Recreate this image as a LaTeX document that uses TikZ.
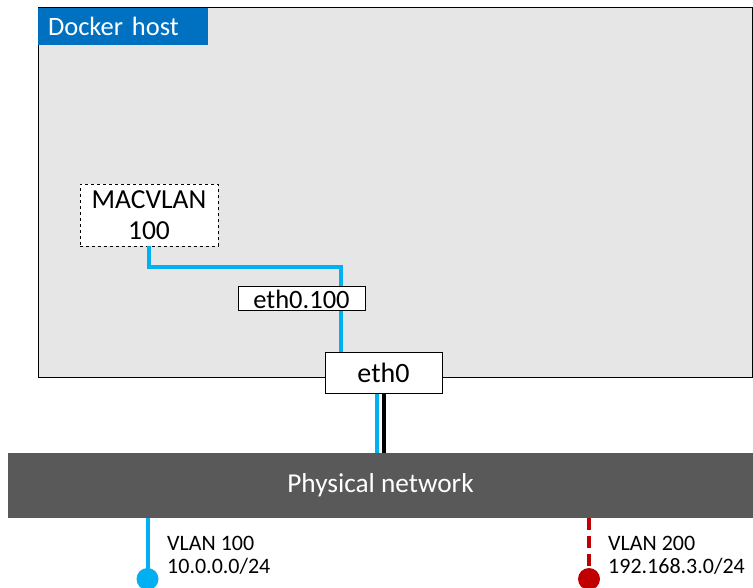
\documentclass[tikz,border=0pt]{standalone}
\usepackage{fontspec}
\setmainfont{Carlito}
\usepackage{tikz}
\usetikzlibrary{positioning}

\definecolor{tabblue}{HTML}{0070C0}
\definecolor{linkblue}{HTML}{00B0F0}
\definecolor{hostgray}{HTML}{E6E6E6}
\definecolor{netgray}{HTML}{595959}
\definecolor{vlanred}{HTML}{C00000}

\tikzset{
    iface/.style={draw=black, fill=white, line width=1pt, inner sep=0pt},
    bluelink/.style={linkblue, line width=4pt},
    vlanlabel/.style={anchor=west, align=left, inner sep=0pt, font=\fontsize{22}{23}\selectfont}
}

\begin{document}
\begin{tikzpicture}[x=1pt, y=-1pt]
    \useasboundingbox (0,0) rectangle (753,588);

    \node[draw=black, fill=hostgray, line width=1pt, minimum width=714pt, minimum height=369pt, inner sep=0pt] (host) at (395,192.5) {};
    \node[fill=tabblue, text=white, text width=150pt, align=left, inner xsep=10pt, inner ysep=0pt, minimum height=37pt, font=\fontsize{26.5}{30}\selectfont] (title) at (123,26.5) {Docker host};

    \node[iface, dashed, line width=0.9pt, minimum width=138pt, minimum height=62pt, align=center, font=\fontsize{27.5}{31}\selectfont] (macvlan) at (149,215) {MACVLAN\\100};
    \node[iface, minimum width=127pt, minimum height=24pt, font=\fontsize{26.5}{30}\selectfont] (eth100) at (301.5,299) {eth0.100};
    \node[iface, minimum width=117pt, minimum height=41pt, font=\fontsize{28}{32}\selectfont] (eth0) at (383.5,372.5) {eth0};

    \node[fill=netgray, text=white, minimum width=745pt, minimum height=65pt, inner sep=0pt, font=\fontsize{27.3}{30}\selectfont] (net) at (380.5,485.5) {Physical network};

    % links inside the host
    \coordinate (up) at (341,267);
    \draw[bluelink] (macvlan.south) |- (up) -- (up |- eth100.north);
    \draw[bluelink] (up |- eth100.south) -- (up |- eth0.north);

    % trunk to the physical network
    \draw[bluelink] ([xshift=-6.5pt]eth0.south) -- ([xshift=-6.5pt]eth0.south |- net.north);
    \draw[black, line width=4pt] ([xshift=0.5pt]eth0.south) -- ([xshift=0.5pt]eth0.south |- net.north);

    % vlans
    \node[circle, fill=linkblue, minimum size=22pt, inner sep=0pt] (v100) at (147.5,579) {};
    \draw[bluelink] (v100 |- net.south) -- (v100.center);
    \node[vlanlabel] (v100lbl) at (167,555) {VLAN 100\\10.0.0.0/24};

    \node[circle, fill=vlanred, minimum size=22pt, inner sep=0pt] (v200) at (589,579) {};
    \draw[vlanred, line width=4pt, dash pattern=on 12pt off 6pt] (v200 |- net.south) -- (v200.center);
    \node[vlanlabel] (v200lbl) at (608,555) {VLAN 200\\192.168.3.0/24};
\end{tikzpicture}
\end{document}
